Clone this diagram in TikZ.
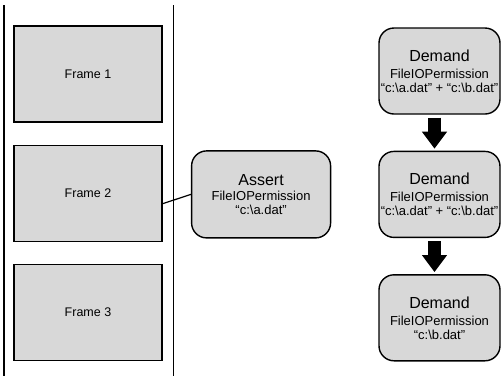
\documentclass[tikz,border=0pt]{standalone}
\usepackage{fontspec}
\setmainfont{Liberation Sans}
\usetikzlibrary{positioning,arrows.meta}
\definecolor{boxgray}{RGB}{216,216,216}

\begin{document}
\begin{tikzpicture}[x=1pt,y=-1pt,node distance=22pt,
    frame/.style={draw,line width=1.2pt,fill=boxgray,minimum width=148pt,
      minimum height=96pt,inner sep=0pt,font=\fontsize{12.5}{14}\selectfont},
    call/.style={draw,line width=1.4pt,fill=boxgray,rounded corners=15pt,
      inner sep=0pt,align=center,font=\fontsize{13}{14}\selectfont},
    push/.style={-{Triangle[width=24pt,length=17pt]},line width=13pt,
      shorten <=3pt,shorten >=2pt}]
    \tikzstyle{title}=[]
    \useasboundingbox (0,0) rectangle (504,376);

    % the call stack
    \coordinate (stackTL) at (4,5); \coordinate (stackBL) at (4,376);
    \coordinate (stackTR) at (173,5); \coordinate (stackBR) at (173,376);
    \draw[line width=1.5pt] (stackTL) -- (stackBL);
    \draw[line width=1pt] (stackTR) -- (stackBR);

    \node[frame] (f1) at (88,74) {Frame 1};
    \node[frame] (f2) [below=of f1] {Frame 2};
    \node[frame] (f3) [below=of f2] {Frame 3};

    % demands walking the stack
    \node[call,minimum width=121pt,minimum height=86pt] (d1) at (439.5,71)
    {{\fontsize{16}{17}\selectfont Demand}\\[3pt] FileIOPermission\\
      “c:\textbackslash a.dat” + “c:\textbackslash b.dat”};
    \node[call,minimum width=121pt,minimum height=86pt] (d2) [below=36pt of d1]
    {{\fontsize{16}{17}\selectfont Demand}\\[3pt] FileIOPermission\\
      “c:\textbackslash a.dat” + “c:\textbackslash b.dat”};
    \node[call,minimum width=121pt,minimum height=86pt] (d3) [below=36pt of d2]
    {{\fontsize{16}{17}\selectfont Demand}\\[3pt] FileIOPermission\\
      “c:\textbackslash b.dat”};

    \node[call,minimum width=139pt,minimum height=87pt] (assert) [left=47pt of d2]
    {{\fontsize{16}{17}\selectfont Assert}\\[1pt] FileIOPermission\\
      “c:\textbackslash a.dat”};

    \draw[push] ([xshift=-5pt]d1.south) -- ([xshift=-5pt]d2.north);
    \draw[push] ([xshift=-5pt]d2.south) -- ([xshift=-5pt]d3.north);

    \draw[line width=1.2pt] (f2.-8.5) -- (assert.west);

\end{tikzpicture}
\end{document}
